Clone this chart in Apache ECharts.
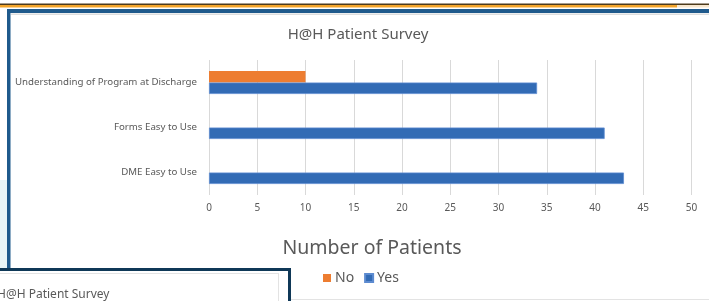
<!DOCTYPE html>
<html>
<head>
<meta charset="utf-8">
<script src="https://cdn.jsdelivr.net/npm/echarts@6/dist/echarts.min.js"></script>
<style>
html,body{margin:0;padding:0;background:#fff;}
#c{width:709px;height:301px;}
</style>
</head>
<body>
<div id="c"></div>
<script>
var categories = ['DME Easy to Use', 'Forms Easy to Use', 'Understanding of Program at Discharge'];
var seriesNames = ['No', 'Yes'];
var noValues = [0, 0, 10];
var yesValues = [43, 41, 34];
var xTicks = [0, 50, 5];

var FONT = 'Noto Sans';
var chart = echarts.init(document.getElementById('c'));
chart.setOption({
  animation: false,
  textStyle: {fontFamily: FONT},
  grid: {left: 209, right: 17.5, top: 60, bottom: 106},
  legend: {
    data: seriesNames,
    left: 318, top: 266,
    icon: 'rect', itemWidth: 8, itemHeight: 8, itemGap: 10,
    textStyle: {fontSize: 14, color: '#595959', fontFamily: FONT, padding: [0, 0, 0, -1]}
  },
  xAxis: {
    type: 'value', min: xTicks[0], max: xTicks[1], interval: xTicks[2],
    axisLine: {show: false}, axisTick: {show: false},
    splitLine: {lineStyle: {color: '#d9d9d9', width: 1}},
    axisLabel: {color: '#595959', fontSize: 10, margin: 8}
  },
  yAxis: {
    type: 'category', data: categories,
    axisLine: {show: false}, axisTick: {show: false},
    axisLabel: {color: '#595959', fontSize: 9.7, margin: 12, padding: [3, 0, 0, 0]}
  },
  graphic: [
    {type: 'rect', shape: {x: 0, y: 3.5, width: 709, height: 1.5}, style: {fill: '#4e3b1c'}, silent: true},
    {type: 'rect', shape: {x: 0, y: 5, width: 677, height: 2.5}, style: {fill: '#f4a52a'}, silent: true},
    {type: 'rect', shape: {x: 677, y: 5, width: 32, height: 2.5}, style: {fill: '#f7e7cf'}, silent: true},
    {type: 'rect', shape: {x: 7, y: 9, width: 702, height: 4}, style: {fill: '#1f5a8c'}, silent: true},
    {type: 'rect', shape: {x: 11, y: 13.5, width: 698, height: 1.5}, style: {fill: '#dedede'}, silent: true},
    {type: 'rect', shape: {x: 0, y: 180, width: 7, height: 88}, style: {fill: '#e9f5f7'}, silent: true},
    {type: 'rect', shape: {x: 7, y: 9, width: 3.5, height: 260}, style: {fill: '#1f5a8c'}, silent: true},
    {type: 'rect', shape: {x: 0, y: 268, width: 291, height: 3}, style: {fill: '#0f3857'}, silent: true},
    {type: 'rect', shape: {x: 288, y: 268, width: 3, height: 33}, style: {fill: '#0f3857'}, silent: true},
    {type: 'rect', shape: {x: 0, y: 271, width: 288, height: 30}, style: {fill: '#ffffff'}, silent: true},
    {type: 'rect', shape: {x: 0, y: 273, width: 279, height: 1}, style: {fill: '#e3e3e3'}, silent: true},
    {type: 'rect', shape: {x: 278, y: 273, width: 1, height: 28}, style: {fill: '#e3e3e3'}, silent: true},
    {type: 'rect', shape: {x: 291, y: 299, width: 418, height: 1}, style: {fill: '#e3e3e3'}, silent: true},
    {type: 'text', x: -3, y: 295, style: {text: 'H@H Patient Survey', fill: '#595959', fontSize: 12, fontFamily: FONT, textVerticalAlign: 'middle'}, silent: true},
    {type: 'text', x: 358, y: 35, style: {text: 'H@H Patient Survey', fill: '#595959', fontSize: 15, fontFamily: FONT, textAlign: 'center', textVerticalAlign: 'middle'}, silent: true},
    {type: 'text', x: 372, y: 248, style: {text: 'Number of Patients', fill: '#595959', fontSize: 19.5, fontFamily: FONT, textAlign: 'center', textVerticalAlign: 'middle'}, silent: true}
  ],
  series: [
    {name: seriesNames[0], type: 'bar', data: noValues, barWidth: 11.5, barGap: '0%',
     itemStyle: {color: '#ed7d31'}},
    {name: seriesNames[1], type: 'bar', data: yesValues, barWidth: 11.5, barGap: '0%',
     itemStyle: {color: '#326bb5', borderColor: '#5d8bd0', borderWidth: 0.8}}
  ]
});
</script>
</body>
</html>
